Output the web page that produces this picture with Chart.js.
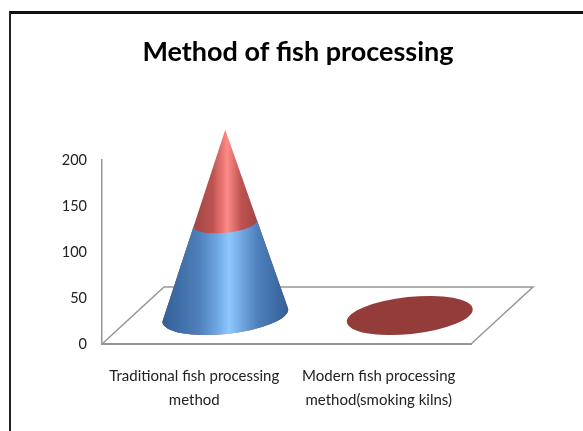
<!DOCTYPE html>
<html>
<head>
<meta charset="utf-8">
<title>Method of fish processing</title>
<script src="https://cdn.jsdelivr.net/npm/chart.js@4"></script>
<style>
  html, body { margin: 0; background: #fff; overflow: hidden; }
  #frame { position: absolute; left: 9px; top: 11px; width: 574px; height: 420px; box-sizing: border-box;
           border-top: 3px solid #111; border-left: 2px solid #222; }
  #chart { position: absolute; left: 13px; top: 0; }
</style>
</head>
<body>
<div id="frame"></div>
<canvas id="chart" width="570" height="431"></canvas>
<script>
var categories = [['Traditional fish processing', 'method'], ['Modern fish processing', 'method(smoking kilns)']];
var blueValues = [100, 0];
var redValues = [102, 0];
var tickLabels = [0, 50, 100, 150, 200];

// 3d look of the old chart: floor depth and the tilt of the cone base
const depthX = 62;
const depthY = -57;
const coneRx = 63.3;
const coneRy = 18.5;
const coneTilt = -6 * Math.PI / 180;

function coneGradient(ctx, x, rx, stops) {
  var g = ctx.createLinearGradient(x - rx, 0, x + rx, 0);
  g.addColorStop(0, stops[0]);
  g.addColorStop(0.3, stops[1]);
  g.addColorStop(0.45, stops[2]);
  g.addColorStop(0.53, stops[3]);
  g.addColorStop(0.75, stops[1]);
  g.addColorStop(1, stops[0]);
  return g;
}

// front half of a cone slice between two heights, k is the radius scale
function slice(ctx, x, y0, k0, y1, k1) {
  var cos = Math.cos(coneTilt), sin = Math.sin(coneTilt);
  ctx.beginPath();
  ctx.ellipse(x, y0, coneRx * k0, coneRy * k0, coneTilt, Math.PI, 0, true);
  if (k1 > 0) {
    ctx.lineTo(x + coneRx * k1 * cos, y1 + coneRx * k1 * sin);
    ctx.ellipse(x, y1, coneRx * k1, coneRy * k1, coneTilt, 0, Math.PI, false);
  } else {
    ctx.lineTo(x, y1);
  }
  ctx.closePath();
}

const cones = {
  id: 'cones',
  beforeDatasetsDraw(chart) {
    var ctx = chart.ctx, area = chart.chartArea;
    var y0 = chart.scales.y.getPixelForValue(0);

    // floor
    ctx.save();
    ctx.strokeStyle = '#969696';
    ctx.lineWidth = 1.5;
    ctx.beginPath();
    ctx.moveTo(area.left, y0);
    ctx.lineTo(area.left + depthX, y0 + depthY);
    ctx.lineTo(area.right + depthX, y0 + depthY);
    ctx.lineTo(area.right, y0);
    ctx.stroke();
    ctx.restore();
  },
  afterDatasetsDraw(chart) {
    var ctx = chart.ctx;
    var yScale = chart.scales.y;
    var blue = chart.getDatasetMeta(0).data;

    categories.forEach(function (c, i) {
      var x = blue[i].x + depthX / 2;
      var total = blueValues[i] + redValues[i];
      var base = yScale.getPixelForValue(0) + depthY / 2;
      var mid = yScale.getPixelForValue(blueValues[i]) + depthY / 2;
      var tip = yScale.getPixelForValue(total) + depthY / 2;

      ctx.save();
      if (total === 0) {
        ctx.fillStyle = '#943c3a';
        ctx.beginPath();
        ctx.ellipse(x, base, coneRx, coneRy, coneTilt, 0, Math.PI * 2);
        ctx.fill();
      } else {
        var k = 1 - blueValues[i] / total;
        slice(ctx, x, base, 1, tip, 0);
        ctx.fillStyle = coneGradient(ctx, x, coneRx * k, ['#a04644', '#bd5351', '#e87472', '#ff8b89']);
        ctx.fill();
        slice(ctx, x, base, 1, mid, k);
        ctx.fillStyle = coneGradient(ctx, x, coneRx, ['#325f95', '#4f81bd', '#72abe8', '#8ec8ff']);
        ctx.fill();
      }
      ctx.restore();
    });
  }
};

new Chart(document.getElementById('chart'), {
  type: 'bar',
  data: {
    labels: categories,
    datasets: [
      { label: 'Series 1', data: blueValues, backgroundColor: 'rgba(0,0,0,0)' },
      { label: 'Series 2', data: redValues, backgroundColor: 'rgba(0,0,0,0)' }
    ]
  },
  options: {
    responsive: false,
    animation: false,
    layout: { padding: 0 },
    plugins: {
      legend: { display: false },
      tooltip: { enabled: false },
      title: {
        display: true,
        text: 'Method of fish processing',
        color: '#000',
        font: { family: 'Lato', size: 27, weight: 'bold', lineHeight: 1 },
        padding: { top: 39, bottom: 94 }
      }
    },
    scales: {
      x: {
        stacked: true,
        grid: { display: false, drawTicks: false },
        border: { color: '#969696', width: 2 },
        ticks: { color: '#222', font: { family: 'Lato', size: 15, lineHeight: 1.55 }, padding: 21, maxRotation: 0, autoSkip: false },
        afterFit: function (s) { s.height = 87; }
      },
      y: {
        stacked: true,
        min: 0,
        max: 200,
        grid: { display: false, drawTicks: false },
        border: { color: '#969696', width: 1.5 },
        afterBuildTicks: function (s) { s.ticks = tickLabels.map(function (v) { return { value: v }; }); },
        ticks: { color: '#222', font: { family: 'Lato', size: 14.5 }, padding: 15 },
        afterFit: function (s) { s.width = 89; }
      },
      // empty axis, keeps the room on the right for the floor
      y2: {
        position: 'right',
        display: true,
        grid: { display: false, drawTicks: false },
        border: { display: false },
        ticks: { display: false },
        afterFit: function (s) { s.width = 112; }
      }
    }
  },
  plugins: [cones]
});
</script>
</body>
</html>
